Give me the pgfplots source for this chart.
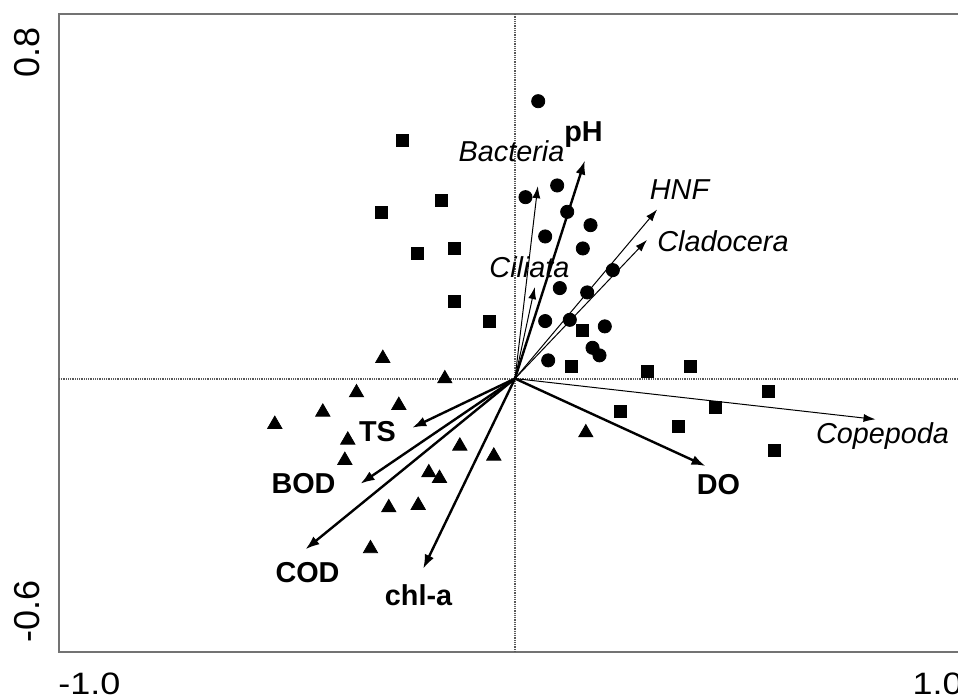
\documentclass[border=0pt]{standalone}
\usepackage{fontspec}
\setmainfont{Liberation Sans}
\usepackage{pgfplots}
\pgfplotsset{compat=1.18}
\usetikzlibrary{arrows.meta}
\begin{document}
\begin{tikzpicture}
\useasboundingbox (0,0) rectangle (479pt,349.5pt);
\begin{axis}[
  at={(29.5pt,23.5pt)}, anchor=south west,
  width=456pt, height=319pt, scale only axis,
  xmin=-1, xmax=1, ymin=-0.6, ymax=0.8,
  xtick=\empty, ytick=\empty,
  axis line style={draw=black!55, line width=0.9pt},
  clip=false,
]
% zero lines
\addplot[black!65, line width=1pt, dash pattern=on 0.5pt off 0.4pt] coordinates {(0,-0.6) (0,0.8)};
\addplot[black!65, line width=1pt, dash pattern=on 0.5pt off 0.4pt] coordinates {(-1,0) (1,0)};

% circles
\addplot[only marks, mark=*, mark size=3.3pt, black] coordinates {
(0.0509,0.6086) (0.0925,0.4237) (0.0230,0.3980) (0.1145,0.3658)
(0.1656,0.3366) (0.0662,0.3118) (0.1487,0.2855) (0.2145,0.2379)
(0.0982,0.1985) (0.1583,0.1890) (0.0662,0.1261) (0.1202,0.1289)
(0.1969,0.1145) (0.1700,0.0675) (0.1853,0.0509) (0.0728,0.0399)
};
% squares
\addplot[only marks, mark=square*, mark size=3pt, black] coordinates {
(-0.2461,0.5218) (-0.2922,0.3655) (-0.1610,0.3920) (-0.2143,0.2741)
(-0.1327,0.2864) (-0.1327,0.1700) (-0.0553,0.1261) (0.1480,0.1057)
(0.1246,0.0259) (0.2899,0.0164) (0.3849,0.0259) (0.5553,-0.0274)
(0.4404,-0.0640) (0.2314,-0.0713) (0.3586,-0.1048) (0.5697,-0.1568)
};
% triangles
\addplot[only marks, mark=triangle*, mark size=4.1pt, black] coordinates {
(-0.2899,0.0443) (-0.1539,-0.0004) (-0.3476,-0.0311) (-0.2548,-0.0588)
(-0.4215,-0.0735) (-0.5268,-0.1004) (-0.3667,-0.1349) (-0.1210,-0.1480)
(-0.3732,-0.1794) (-0.0465,-0.1700) (-0.1890,-0.2066) (-0.1656,-0.2189)
(-0.2768,-0.2833) (-0.2123,-0.2781) (-0.3169,-0.3732) (0.1553,-0.1189)
};

% arrow styles
\pgfplotsset{envarrow/.style={black, line width=1.2pt, -{Latex[length=7pt,width=5pt]}}}
\pgfplotsset{sparrow/.style={black, line width=0.5pt, -{Latex[length=6pt,width=4pt]}}}
% environmental arrows (thick)
\addplot[envarrow] coordinates {(0,0) (0.1531,0.4785)};
\addplot[envarrow] coordinates {(0,0) (-0.2254,-0.1079)};
\addplot[envarrow] coordinates {(0,0) (-0.3388,-0.2307)};
\addplot[envarrow] coordinates {(0,0) (-0.4594,-0.3746)};
\addplot[envarrow] coordinates {(0,0) (-0.2013,-0.4171)};
\addplot[envarrow] coordinates {(0,0) (0.4178,-0.1919)};
% species arrows (thin)
\addplot[sparrow] coordinates {(0,0) (0.0500,0.4221)};
\addplot[sparrow] coordinates {(0,0) (0.0434,0.2007)};
\addplot[sparrow] coordinates {(0,0) (0.3118,0.3711)};
\addplot[sparrow] coordinates {(0,0) (0.2895,0.3042)};
\addplot[sparrow] coordinates {(0,0) (0.7906,-0.0895)};

% labels
\tikzset{lab/.style={inner sep=0pt}}
\def\lf{\fontsize{14.4}{16}\selectfont}
\node[lab, font=\lf\bfseries] at (axis cs:0.1502,0.5362) {pH};
\node[lab, font=\lf\itshape] at (axis cs:-0.0077,0.4978) {Bacteria};
\node[lab, font=\lf\itshape] at (axis cs:0.0318,0.2445) {Ciliata};
\node[lab, font=\lf\itshape] at (axis cs:0.3608,0.4156) {HNF};
\node[lab, font=\lf\itshape] at (axis cs:0.4561,0.3015) {Cladocera};
\node[lab, font=\lf\itshape] at (axis cs:0.8059,-0.1261) {Copepoda};
\node[lab, font=\lf\bfseries] at (axis cs:0.4463,-0.2336) {DO};
\node[lab, font=\lf\bfseries] at (axis cs:-0.3015,-0.1173) {TS};
\node[lab, font=\lf\bfseries] at (axis cs:-0.4638,-0.2314) {BOD};
\node[lab, font=\lf\bfseries] at (axis cs:-0.4550,-0.4265) {COD};
\node[lab, font=\lf\bfseries] at (axis cs:-0.2116,-0.4748) {chl-a};

% axis end labels
\path (rel axis cs:0,0) ++(-0.5pt,-10.5pt) node[inner sep=0pt, anchor=north west, yscale=0.86, font=\fontsize{18}{20}\selectfont] {-1.0};
\path (rel axis cs:1,0) ++(-4pt,-10.5pt) node[inner sep=0pt, anchor=north east, yscale=0.86, font=\fontsize{18}{20}\selectfont] {1.0};
\path (rel axis cs:0,1) ++(-9.5pt,-6.5pt) node[inner sep=0pt, anchor=south east, rotate=90, font=\fontsize{18}{20}\selectfont] {0.8};
\path (rel axis cs:0,0) ++(-9.5pt,4.5pt) node[inner sep=0pt, anchor=south west, rotate=90, font=\fontsize{18}{20}\selectfont] {-0.6};
\end{axis}
\end{tikzpicture}
\end{document}
